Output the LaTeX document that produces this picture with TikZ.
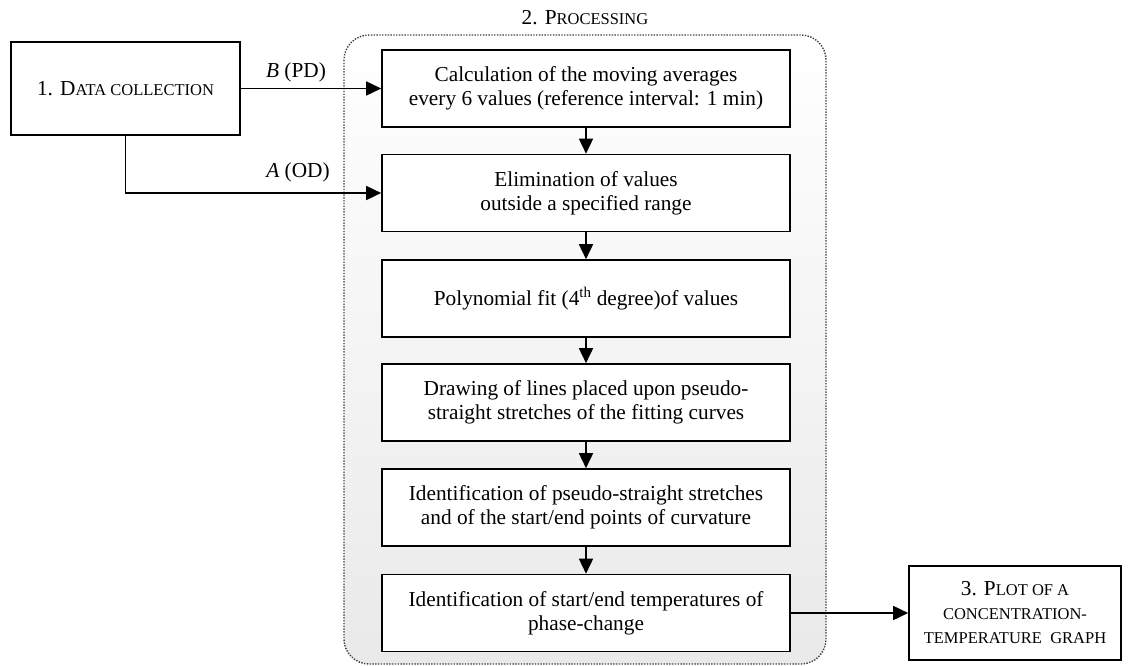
\documentclass[tikz,border=0pt]{standalone}
\usepackage{fontspec}
\setmainfont{Liberation Serif}
\usetikzlibrary{arrows.meta}
\newcommand\smc[1]{{\fontsize{16.5}{24}\selectfont\uppercase{#1}}}
\begin{document}
\begin{tikzpicture}[x=1pt,y=-1pt,
  stepbox/.style={draw, line width=1.6pt, minimum width=408pt, minimum height=77pt, align=center, fill=white, inner sep=0pt, font=\fontsize{21.3}{24}\selectfont},
  sidebox/.style={draw, line width=1.6pt, align=center, fill=white, inner sep=0pt, font=\fontsize{21.3}{24}\selectfont},
  arr/.style={-{Triangle[length=15pt,width=14pt]}, line width=1.6pt},
  lab/.style={font=\fontsize{21.3}{24}\selectfont, inner sep=0pt}]
\useasboundingbox (0,0) rectangle (1130,666);
\draw[dash pattern=on 1.4pt off 1.4pt, line width=1.4pt, draw=black!75, rounded corners=25pt, top color=white, bottom color=gray!17] (344,35) rectangle (826,664);
\node[lab] (ptitle) at (585,18) {2. P\smc{rocessing}};
\node[sidebox, minimum width=229pt, minimum height=93pt] (data) at (125.5,88.5) {1. D\smc{ata collection}};
\node[stepbox] (b1) at (586,88.5) {Calculation of the moving averages\\every 6 values (reference interval: 1 min)};
\node[stepbox] (b2) at (586,193) {Elimination of values\\outside a specified range};
\node[stepbox] (b3) at (586,298.5) {Polynomial fit (4\textsuperscript{th} degree)of values};
\node[stepbox] (b4) at (586,402.5) {Drawing of lines placed upon pseudo-\\straight stretches of the fitting curves};
\node[stepbox] (b5) at (586,507.5) {Identification of pseudo-straight stretches\\and of the start/end points of curvature};
\node[stepbox] (b6) at (586,613) {Identification of start/end temperatures of\\phase-change};
\node[sidebox, minimum width=212pt, minimum height=94pt] (plot) at (1015,613) {3. P\smc{lot of a}\\\smc{concentration-}\\\smc{temperature\ \ graph}};
\draw[arr] (data.east) -- (b1.west);
\draw[arr] (data.south) |- (b2.west);
\node[lab] (lb) at (296,72) {\textit{B} (PD)};
\node[lab] (la) at (298,172) {\textit{A} (OD)};
\draw[arr] (b1) -- (b2);
\draw[arr] (b2) -- (b3);
\draw[arr] (b3) -- (b4);
\draw[arr] (b4) -- (b5);
\draw[arr] (b5) -- (b6);
\draw[arr] (b6.east) -- (plot.west);
\end{tikzpicture}
\end{document}
